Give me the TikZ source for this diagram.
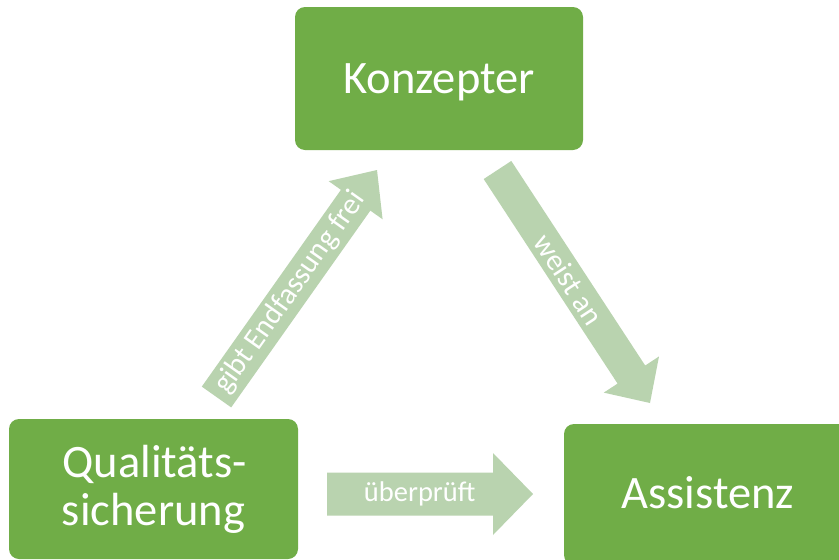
\documentclass[tikz,border=0pt]{standalone}
\usepackage{fontspec}
\setmainfont{Carlito}
\usetikzlibrary{calc}
\definecolor{boxgreen}{HTML}{70AD47}
\definecolor{arrowgreen}{HTML}{B9D3AF}
% block arrow: tail, tip, shaft half-width, head half-width, head length, name
\newcommand{\blkarrow}[6]{%
  \coordinate (#6b) at ($(#2)!#5!(#1)$);
  \fill[arrowgreen] ($(#1)!#3!90:(#2)$) -- ($(#6b)!#3!90:(#2)$) -- ($(#6b)!#4!90:(#2)$) -- (#2)
    -- ($(#6b)!#4!-90:(#2)$) -- ($(#6b)!#3!-90:(#2)$) -- ($(#1)!#3!-90:(#2)$) -- cycle;
}
\begin{document}
\begin{tikzpicture}[x=1pt,y=-1pt,
  box/.style={fill=boxgreen, rounded corners=10pt, inner sep=0pt},
  boxtext/.style={inner sep=0pt, text=white, anchor=base,
    font=\fontsize{46.5}{48}\selectfont},
  lbl/.style={inner sep=0pt, text=white, font=\fontsize{28.5}{30}\selectfont},
  dlbl/.style={lbl, font=\fontsize{30}{32}\selectfont}]
\clip (0,0) rectangle (839,560);
\fill[white] (0,0) rectangle (839,560);
% boxes
\node[box, minimum width=288pt, minimum height=143pt] (konz) at (439,78.5) {};
\node[box, minimum width=289pt, minimum height=140pt] (qs) at (153.5,489) {};
\node[box, minimum width=288pt, minimum height=141pt] (assi) at (708,494.5) {};
\node[boxtext] (konzt) at ($(konz.center)+(0,14.5)$) {Konzepter};
\node[boxtext] (qst1) at ($(qs.center)+(1,-11.5)$) {Qualitäts-};
\node[boxtext] (qst2) at ($(qs.center)+(0,36.5)$) {sicherung};
\node[boxtext] (assit) at ($(assi.center)+(0,13.5)$) {Assistenz};
% arrows
\coordinate (t1) at (216.5,397);
\coordinate (h1) at (377,170);
\coordinate (t2) at (497.5,170);
\coordinate (h2) at (650,403);
\coordinate (t3) at (327,494);
\coordinate (h3) at (533,494);
\blkarrow{t1}{h1}{18pt}{33pt}{37pt}{a1}
\blkarrow{t2}{h2}{16.5pt}{33pt}{34pt}{a2}
\blkarrow{t3}{h3}{21.5pt}{41pt}{40pt}{a3}
\node[dlbl, rotate=54.74] (l1) at ($(t1)!0.46!(h1)$) {gibt Endfassung frei};
\node[dlbl, rotate=-56.8] (l2) at ($(t2)!0.47!(h2)$) {weist an};
\node[lbl] (l3) at ($(t3)!0.45!(h3)$) {überprüft};
\end{tikzpicture}
\end{document}
